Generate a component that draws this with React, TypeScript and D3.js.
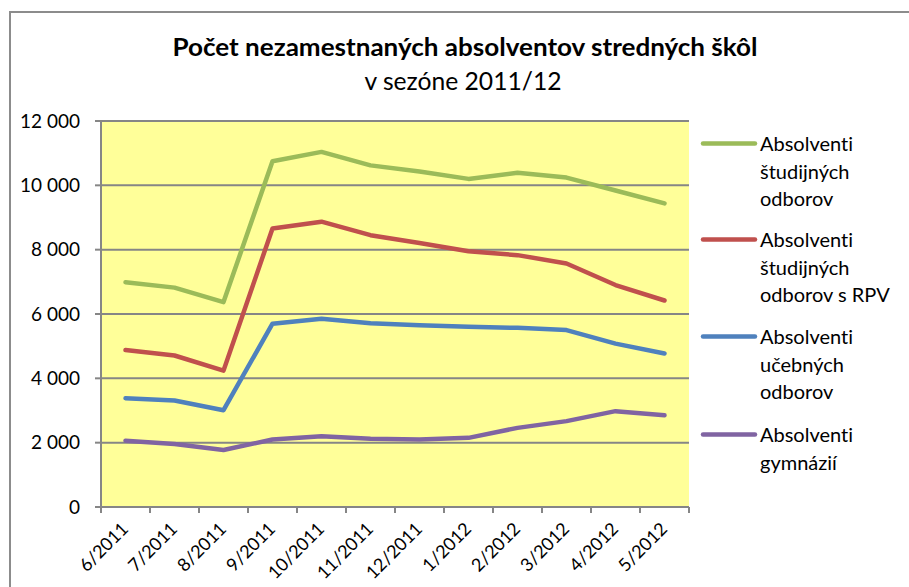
import React from 'react';
import * as d3 from 'd3';

const categories = ['6/2011','7/2011','8/2011','9/2011','10/2011','11/2011','12/2011','1/2012','2/2012','3/2012','4/2012','5/2012'];
const studijne = [6990, 6820, 6370, 10750, 11040, 10620, 10430, 10200, 10390, 10240, 9840, 9440];
const studijneRPV = [4880, 4710, 4240, 8660, 8870, 8450, 8210, 7950, 7830, 7570, 6900, 6420];
const ucebne = [3380, 3310, 3010, 5700, 5850, 5710, 5650, 5600, 5570, 5500, 5080, 4770];
const gymnazia = [2060, 1960, 1770, 2100, 2200, 2120, 2100, 2150, 2460, 2670, 2980, 2850];
const yTicks = [0, 2000, 4000, 6000, 8000, 10000, 12000];
const seriesNames = [
  ['Absolventi', 'študijných', 'odborov'],
  ['Absolventi', 'študijných', 'odborov s RPV'],
  ['Absolventi', 'učebných', 'odborov'],
  ['Absolventi', 'gymnázií'],
];
const seriesColors = ['#9BBB59', '#C0504D', '#4F81BD', '#8064A2'];
const seriesValues = [studijne, studijneRPV, ucebne, gymnazia];
const titleLine1 = 'Počet nezamestnaných absolventov stredných škôl';
const titleLine2 = 'v sezóne 2011/12';

const W = 909, H = 587;
const plot = { left: 101, right: 689, top: 121, bottom: 507 };
const FONT = 'Lato, "Open Sans", sans-serif';

export default function App() {
  const x = d3.scaleBand<string>().domain(categories).range([plot.left, plot.right]).padding(0);
  const y = d3.scaleLinear().domain([0, 12000]).range([plot.bottom, plot.top]);
  const fmt = d3.formatLocale({ decimal: ',', thousands: ' ', grouping: [3], currency: ['', ''] }).format(',');
  const line = d3.line<number>()
    .x((_, i) => (x(categories[i]) as number) + x.bandwidth() / 2)
    .y((d) => y(d));

  const legendGroupTop = [151, 247, 344, 442];
  const legendLH = 27.5;

  return (
    <svg width={W} height={H} style={{ position: 'absolute', left: 0, top: 0, background: '#fff', fontVariantLigatures: 'none', fontFeatureSettings: '"liga" 0' }} fontFamily={FONT}>
      <rect x={0} y={0} width={W} height={H} fill="#fff" />
      <rect x={10} y={12} width={W + 50} height={H + 50} fill="none" stroke="#8c8c8c" strokeWidth={2} />
      {/* title */}
      <text x={465} y={56} textAnchor="middle" fontSize={25} fontWeight="bold" fill="#000" textLength={585} lengthAdjust="spacingAndGlyphs">{titleLine1}</text>
      <text x={463} y={90} textAnchor="middle" fontSize={25} fill="#000" textLength={197} lengthAdjust="spacingAndGlyphs">{titleLine2}</text>

      {/* plot background */}
      <rect x={plot.left} y={plot.top} width={plot.right - plot.left} height={plot.bottom - plot.top} fill="#FFFF99" />
      {/* gridlines */}
      {yTicks.filter((t) => t > 0).map((t) => (
        <line key={'g' + t} x1={plot.left} x2={plot.right} y1={y(t)} y2={y(t)} stroke="#868686" strokeWidth={2} />
      ))}
      {/* y axis */}
      <line x1={plot.left} x2={plot.left} y1={plot.top} y2={plot.bottom} stroke="#868686" strokeWidth={2} />
      {yTicks.map((t) => (
        <g key={'y' + t}>
          <line x1={plot.left - 6} x2={plot.left} y1={y(t)} y2={y(t)} stroke="#868686" strokeWidth={2} />
          <text x={80} y={y(t)} dy="0.35em" textAnchor="end" fontSize={19} fill="#000">{fmt(t)}</text>
        </g>
      ))}
      {/* x axis */}
      <line x1={plot.left - 6} x2={plot.right} y1={plot.bottom} y2={plot.bottom} stroke="#868686" strokeWidth={2} />
      {categories.concat(['__end']).map((c, i) => {
        const xx = plot.left + i * x.bandwidth();
        return <line key={'xt' + i} x1={xx} x2={xx} y1={plot.bottom} y2={plot.bottom + 6} stroke="#868686" strokeWidth={2} />;
      })}
      {categories.map((c) => {
        const cx = (x(c) as number) + x.bandwidth() / 2 + 4;
        const cy = 530;
        return (
          <text key={'xl' + c} x={cx} y={cy} textAnchor="end" fontSize={18} fill="#000" transform={`rotate(-45, ${cx}, ${cy})`}>{c}</text>
        );
      })}

      {/* series */}
      {seriesValues.map((vals, si) => (
        <path key={'s' + si} d={line(vals) as string} fill="none" stroke={seriesColors[si]} strokeWidth={4.5} strokeLinejoin="round" strokeLinecap="round" />
      ))}

      {/* legend */}
      {seriesNames.map((lines, si) => (
        <g key={'l' + si}>
          <line x1={703} x2={755} y1={legendGroupTop[si] - 7.5} y2={legendGroupTop[si] - 7.5} stroke={seriesColors[si]} strokeWidth={4.5} strokeLinecap="round" />
          {lines.map((t, li) => (
            <text key={li} x={760} y={legendGroupTop[si] + li * legendLH} fontSize={20} fill="#000">{t}</text>
          ))}
        </g>
      ))}
    </svg>
  );
}
